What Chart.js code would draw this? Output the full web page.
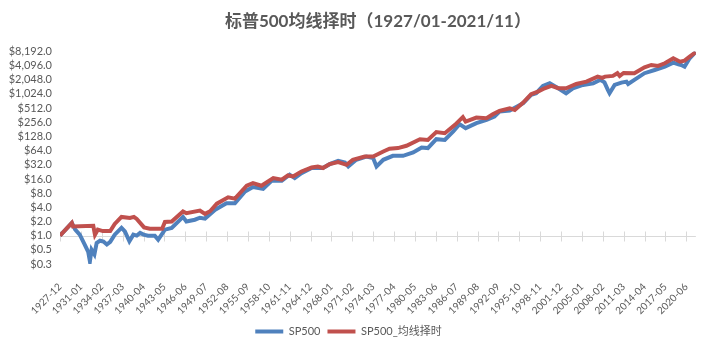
<!DOCTYPE html>
<html><head><meta charset="utf-8">
<script src="https://cdn.jsdelivr.net/npm/chart.js@4/dist/chart.umd.min.js"></script>
<style>html,body{margin:0;padding:0;background:#fff;}canvas{display:block;}</style>
</head><body>
<canvas id="c" width="712" height="353"></canvas>
<script>
const chartTitle = '标普500均线择时（1927/01-2021/11）';
const seriesNames = ['SP500', 'SP500_均线择时'];
const startMonth = '1927-12';
const endMonth = '2021-11';
const tickLabels = ['1927-12','1931-01','1934-02','1937-03','1940-04','1943-05','1946-06','1949-07','1952-08','1955-09','1958-10','1961-11','1964-12','1968-01','1971-02','1974-03','1977-04','1980-05','1983-06','1986-07','1989-08','1992-09','1995-10','1998-11','2001-12','2005-01','2008-02','2011-03','2014-04','2017-05','2020-06'];
const yTicks = [0.25,0.5,1,2,4,8,16,32,64,128,256,512,1024,2048,4096,8192];

const spDates = ['1927-12','1929-09','1930-03','1930-11','1931-08','1932-02','1932-05','1932-08','1933-01','1933-05','1933-11','1934-05','1934-11','1935-05','1936-01','1937-01','1937-07','1938-03','1938-10','1939-04','1939-10','1940-04','1940-12','1941-12','1942-06','1943-06','1944-06','1946-02','1946-08','1947-11','1948-08','1949-05','1950-11','1952-07','1953-10','1955-04','1956-06','1957-12','1959-03','1960-09','1961-11','1962-08','1963-08','1965-02','1966-10','1967-10','1969-01','1970-01','1970-07','1971-09','1973-03','1974-03','1974-09','1975-09','1977-02','1978-08','1980-02','1981-05','1982-04','1983-07','1984-10','1986-01','1986-12','1987-11','1989-06','1990-12','1992-02','1992-11','1994-05','1996-05','1997-07','1998-04','1999-04','2000-04','2001-07','2002-09','2003-09','2005-03','2006-09','2007-10','2008-05','2008-11','2009-02','2009-11','2010-11','2011-08','2011-11','2012-10','2014-04','2015-10','2017-04','2018-07','2019-04','2019-09','2020-03','2020-12','2021-11'];
const spValues = [1.0,1.86,1.34,1.05,0.64,0.45,0.285,0.5,0.4,0.7,0.78,0.75,0.65,0.74,1.05,1.46,1.23,0.76,1.05,1.0,1.14,1.05,1.0,1.0,0.82,1.34,1.46,2.5,2.0,2.18,2.4,2.3,3.56,4.9,4.9,8.7,10.8,9.9,14.6,14.6,19.7,16.7,21.3,27.3,27.3,33,38.9,35.8,29.4,40.8,48,44.4,29.4,40.8,49.6,49.6,58.4,74.5,72.5,112,108,163,234,192,245,288,338,431,453,651,975,1060,1510,1725,1350,1060,1350,1590,1725,2050,1800,1245,1060,1590,1780,1870,1665,2030,2820,3300,3880,4720,4360,4220,3880,5840,8000];

const maDates = ['1927-12','1929-09','1929-11','1932-11','1933-02','1933-07','1934-04','1935-05','1936-01','1937-01','1938-04','1938-11','1939-04','1940-05','1941-03','1943-01','1943-06','1944-06','1946-02','1946-08','1948-08','1949-05','1950-02','1951-02','1952-10','1953-10','1955-07','1956-06','1957-09','1959-06','1960-09','1961-08','1962-05','1963-08','1965-02','1966-01','1966-10','1967-10','1969-01','1970-04','1971-03','1972-12','1974-03','1975-09','1976-08','1977-11','1979-02','1981-02','1982-04','1983-07','1984-10','1986-04','1987-06','1987-11','1989-06','1990-12','1991-11','1992-11','1994-05','1995-02','1996-05','1997-07','1998-07','1999-07','2000-07','2001-07','2002-09','2004-03','2005-09','2007-05','2008-01','2008-06','2009-08','2010-04','2010-08','2011-03','2012-10','2014-04','2015-04','2016-04','2017-04','2018-07','2019-07','2020-03','2020-12','2021-11'];
const maValues = [1.0,1.86,1.57,1.62,1.05,1.34,1.25,1.25,1.77,2.5,2.37,2.5,2.26,1.5,1.4,1.4,1.95,2.0,3.27,3.0,3.4,2.9,3.3,4.77,6.5,6.1,11.5,13.1,11.5,16.7,15.4,19,18.1,23.1,28,29.4,27.3,33.1,36.5,32,40.8,48,48,61.3,70,72.5,81,112,108,158,150,226,329,265,322,313,380,446,509,468,670,1010,1144,1350,1510,1350,1350,1665,1870,2385,2250,2385,2470,2820,2470,2850,2820,3770,4220,4020,4580,5840,4950,5210,6330,7900];

function monthIndex(s) {
  const [y, m] = s.split('-').map(Number);
  const [y0, m0] = startMonth.split('-').map(Number);
  return (y - y0) * 12 + (m - m0);
}
function fmt(v) {
  const s = v.toFixed(1);
  let [a, b] = s.split('.');
  a = a.replace(/\B(?=(\d{3})+(?!\d))/g, ',');
  return '$' + a + '.' + b;
}
const FONT = 'Lato, "Noto Sans CJK SC", sans-serif';
const TXT = '#595959';

const axisAtOne = {
  id: 'axisAtOne',
  beforeDatasetsDraw(chart) {
    const {ctx, chartArea, scales} = chart;
    const x = scales.x, y = scales.y;
    const py = Math.round(y.getPixelForValue(1)) + 0.5;
    ctx.save();
    ctx.strokeStyle = '#D9D9D9';
    ctx.lineWidth = 1;
    ctx.beginPath();
    ctx.moveTo(chartArea.left, py);
    ctx.lineTo(chartArea.right, py);
    tickLabels.forEach(l => {
      const px = Math.round(x.getPixelForValue(monthIndex(l))) + 0.5;
      ctx.moveTo(px, py - 5);
      ctx.lineTo(px, py + 5);
    });
    ctx.stroke();
    ctx.restore();
  }
};

new Chart(document.getElementById('c'), {
  type: 'line',
  data: {
    datasets: [
      {
        label: seriesNames[0],
        data: spDates.map((d, i) => ({x: monthIndex(d), y: spValues[i]})),
        borderColor: '#4F81BD', backgroundColor: '#4F81BD',
        borderWidth: 4, pointRadius: 0, tension: 0, order: 1
      },
      {
        label: seriesNames[1],
        data: maDates.map((d, i) => ({x: monthIndex(d), y: maValues[i]})),
        borderColor: '#C0504D', backgroundColor: '#C0504D',
        borderWidth: 4, pointRadius: 0, tension: 0, order: 0
      }
    ]
  },
  options: {
    responsive: false,
    devicePixelRatio: 1,
    animation: false,
    layout: {padding: {left: 0, right: 15, top: 0, bottom: 6}},
    plugins: {
      title: {
        display: true, text: chartTitle, fullSize: false, color: TXT,
        font: {family: FONT, size: 17, weight: 'bold'},
        padding: {top: 11, bottom: 20}
      },
      legend: {
        position: 'bottom',
        labels: {
          usePointStyle: true, pointStyle: 'line', pointStyleWidth: 28,
          color: TXT, font: {family: FONT, size: 11}, padding: 7,
          sort: (a, b) => a.datasetIndex - b.datasetIndex
        }
      },
      tooltip: {enabled: false}
    },
    scales: {
      x: {
        type: 'linear',
        min: monthIndex(startMonth), max: monthIndex(endMonth),
        afterBuildTicks: s => { s.ticks = tickLabels.map(l => ({value: monthIndex(l)})); },
        afterFit: s => { s.height = 55; },
        ticks: {
          autoSkip: false, minRotation: 45, maxRotation: 45, padding: 17,
          color: TXT, font: {family: FONT, size: 10},
          callback: (v, i) => tickLabels[i]
        },
        grid: {display: false, drawTicks: false},
        border: {display: false}
      },
      y: {
        type: 'logarithmic',
        min: 0.25, max: 8192,
        afterBuildTicks: s => { s.ticks = yTicks.map(v => ({value: v})); },
        afterFit: s => { s.width = 60; },
        ticks: {
          autoSkip: false, padding: 8, color: TXT,
          font: {family: FONT, size: 11},
          callback: v => fmt(v)
        },
        grid: {display: false, drawTicks: false},
        border: {display: false}
      }
    }
  },
  plugins: [axisAtOne]
});
</script>
</body></html>
